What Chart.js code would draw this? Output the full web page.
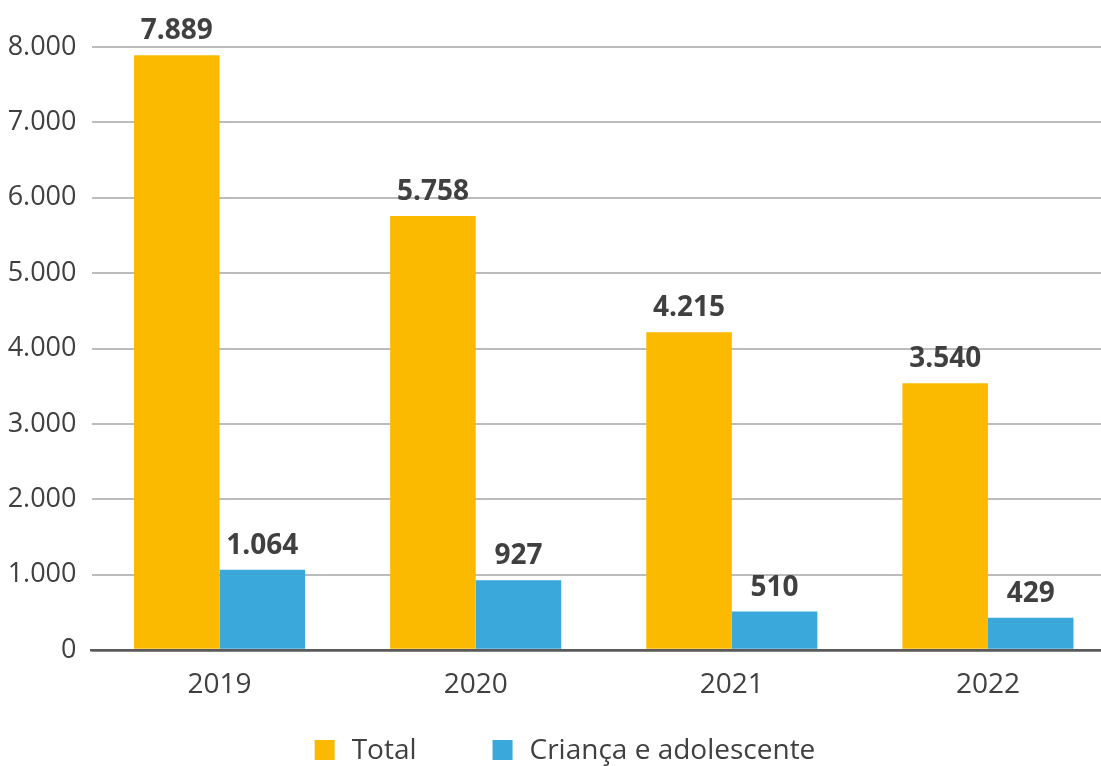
<!DOCTYPE html>
<html>
<head>
<meta charset="utf-8">
<script src="https://cdn.jsdelivr.net/npm/chart.js@4"></script>
<style>
  html, body { margin: 0; padding: 0; background: #fff; overflow: hidden; width: 1101px; height: 766px; }
  #wrap { position: absolute; left: 0; top: 0; width: 1116px; height: 766px; }
  canvas { display: block; }
</style>
</head>
<body>
<div id="wrap"><canvas id="c" width="1116" height="766"></canvas></div>
<script>
const categories = ['2019', '2020', '2021', '2022'];
const seriesNames = ['Total', 'Criança e adolescente'];
const totalValues = [7889, 5758, 4215, 3540];
const childValues = [1064, 927, 510, 429];
const yTicks = [0, 1000, 2000, 3000, 4000, 5000, 6000, 7000, 8000];

const COLORS = ['#FBBA00', '#3AA8DA'];
const TEXT = '#404040';
const FONT = "'Open Sans', 'Noto Sans', sans-serif";

function fmt(v) {
  return String(Math.round(v)).replace(/\B(?=(\d{3})+(?!\d))/g, '.');
}

const valueLabels = {
  id: 'valueLabels',
  afterDatasetsDraw(chart) {
    const ctx = chart.ctx;
    ctx.save();
    ctx.font = 'bold 28px ' + FONT;
    ctx.fillStyle = TEXT;
    ctx.textAlign = 'center';
    ctx.textBaseline = 'bottom';
    chart.data.datasets.forEach((ds, i) => {
      const meta = chart.getDatasetMeta(i);
      meta.data.forEach((bar, j) => {
        ctx.fillText(fmt(ds.data[j]), bar.x, bar.y - 10);
      });
    });
    ctx.restore();
  }
};

const customLegend = {
  id: 'customLegend',
  afterDraw(chart) {
    const ctx = chart.ctx;
    ctx.save();
    ctx.font = '28px ' + FONT;
    ctx.textBaseline = 'middle';
    ctx.textAlign = 'left';
    const box = 20, gapText = 17, gapItem = 76;
    const items = chart.data.datasets.map(d => ({ label: d.label, color: d.backgroundColor, w: ctx.measureText(d.label).width }));
    let total = 0;
    items.forEach((it, i) => { total += box + gapText + it.w + (i < items.length - 1 ? gapItem : 0); });
    let x = 565 - total / 2;
    const cy = 750;
    items.forEach(it => {
      ctx.fillStyle = it.color;
      ctx.fillRect(x, cy - box / 2, box, box);
      x += box + gapText;
      ctx.fillStyle = TEXT;
      ctx.fillText(it.label, x, cy + 1);
      x += it.w + gapItem;
    });
    ctx.restore();
  }
};

new Chart(document.getElementById('c'), {
  type: 'bar',
  data: {
    labels: categories,
    datasets: [
      { label: seriesNames[0], data: totalValues, backgroundColor: COLORS[0], borderWidth: 0 },
      { label: seriesNames[1], data: childValues, backgroundColor: COLORS[1], borderWidth: 0 }
    ]
  },
  options: {
    responsive: false,
    animation: false,
    devicePixelRatio: 1,
    layout: { padding: { top: 47, left: 0, right: 0, bottom: 0 } },
    datasets: { bar: { barPercentage: 1, categoryPercentage: 0.668 } },
    plugins: {
      legend: { display: false },
      tooltip: { enabled: false },
      title: { display: false }
    },
    scales: {
      x: {
        grid: { display: false, drawTicks: false },
        border: { display: true, color: '#5a5a5a', width: 2.5 },
        ticks: { color: TEXT, font: { family: FONT, size: 28 }, padding: 18 },
        afterFit(scale) { scale.height = 116; }
      },
      y: {
        min: 0,
        max: 8000,
        afterBuildTicks(scale) { scale.ticks = yTicks.map(v => ({ value: v })); },
        grid: {
          drawTicks: false,
          color: ctx => (ctx.tick && ctx.tick.value === 0) ? '#5a5a5a' : '#bcbcbc',
          lineWidth: ctx => (ctx.tick && ctx.tick.value === 0) ? 2.5 : 2
        },
        border: { display: false },
        ticks: {
          color: TEXT,
          font: { family: FONT, size: 27 },
          padding: 15,
          callback: v => fmt(v)
        },
        afterFit(scale) { scale.width = 91.5; }
      }
    }
  },
  plugins: [valueLabels, customLegend]
});
</script>
</body>
</html>
